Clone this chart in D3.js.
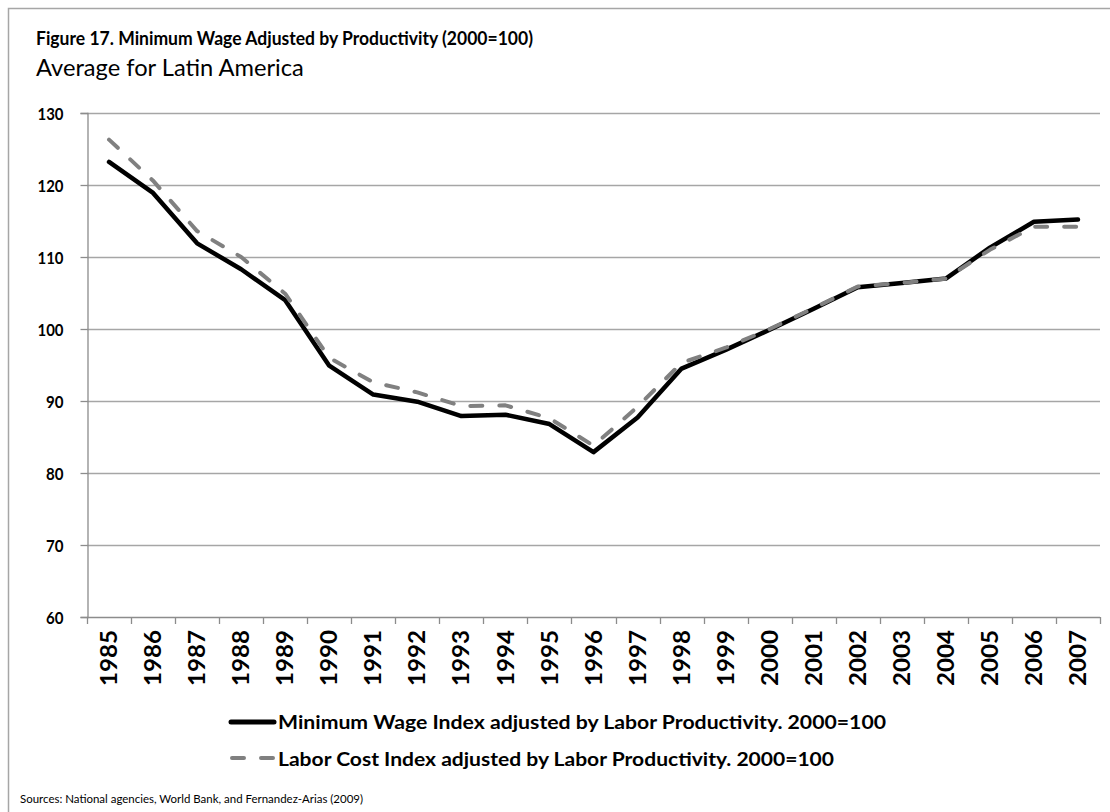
<!DOCTYPE html>
<html>
<head>
<meta charset="utf-8">
<script src="https://cdn.jsdelivr.net/npm/d3@7"></script>
<style>
  html, body { margin: 0; padding: 0; background: #ffffff; }
  svg { display: block; font-family: "Lato", "Carlito", "Liberation Sans", sans-serif; }
</style>
</head>
<body>
<svg id="chart" width="1110" height="812"></svg>
<script>
// ---- data ----
const years = ["1985","1986","1987","1988","1989","1990","1991","1992","1993","1994","1995","1996",
               "1997","1998","1999","2000","2001","2002","2003","2004","2005","2006","2007"];
const minWageIndex = [123.2, 118.9, 111.9, 108.3, 104.0, 94.9, 90.9, 89.9, 87.9, 88.1, 86.8, 82.9,
                      87.7, 94.5, 97.1, 99.9, 102.8, 105.8, 106.4, 107.0, 111.3, 114.9, 115.2];
const laborCostIndex = [126.3, 120.6, 113.6, 110.0, 104.9, 96.0, 92.6, 91.2, 89.3, 89.4, 87.6, 83.8,
                        89.2, 95.3, 97.4, 100.0, 102.9, 105.9, 106.4, 107.0, 111.0, 114.2, 114.2];
const yTicks = [60, 70, 80, 90, 100, 110, 120, 130];
const seriesNames = ["Minimum Wage Index adjusted by Labor Productivity. 2000=100",
                     "Labor Cost Index adjusted by Labor Productivity. 2000=100"];
const titleText = "Figure 17. Minimum Wage Adjusted by Productivity (2000=100)";
const subtitleText = "Average for Latin America";
const sourceText = "Sources: National agencies, World Bank, and Fernandez-Arias (2009)";

// ---- layout ----
const svg = d3.select("#chart");
const plot = { left: 87, right: 1100, top: 113, bottom: 617 };
const gridColor = "#a6a6a6";
const axisColor = "#8c8c8c";

// set font size (for glyph height) and width (to match the reference's narrower face)
function sizeText(sel, fontSize, width) {
  sel.attr("font-size", fontSize)
     .attr("textLength", width)
     .attr("lengthAdjust", "spacingAndGlyphs");
  return sel;
}
// scale font size so that natural width matches target
function fitWidth(sel, target) {
  const len = sel.node().getComputedTextLength();
  const fs = parseFloat(sel.attr("font-size"));
  if (len > 0) sel.attr("font-size", (fs * target / len).toFixed(2));
  return sel;
}

// outer border (extends beyond the canvas on right and bottom)
svg.append("rect")
  .attr("x", 8.5).attr("y", 8.5).attr("width", 1300).attr("height", 1000)
  .attr("fill", "none").attr("stroke", "#a6a6a6").attr("stroke-width", 1.5);

// titles
sizeText(svg.append("text").attr("x", 36).attr("y", 45)
  .attr("font-weight", "bold").attr("fill", "#000").text(titleText), 18, 497);
fitWidth(svg.append("text").attr("x", 36).attr("y", 76).attr("font-size", 20)
  .attr("fill", "#000").text(subtitleText), 268);

// scales
const x = d3.scaleBand().domain(years).range([plot.left, plot.right]).paddingInner(0).paddingOuter(0);
const y = d3.scaleLinear().domain([60, 130]).range([plot.bottom, plot.top]);
const cx = d => x(d) + x.bandwidth() / 2;

// gridlines
svg.append("g").selectAll("line")
  .data(yTicks.filter(t => t !== 60))
  .join("line")
  .attr("x1", plot.left).attr("x2", plot.right)
  .attr("y1", d => Math.round(y(d)) + 0.5).attr("y2", d => Math.round(y(d)) + 0.5)
  .attr("stroke", gridColor).attr("stroke-width", 1.3);

// y axis
const yAxis = svg.append("g")
  .attr("transform", `translate(${plot.left + 0.5},0)`)
  .call(d3.axisLeft(y).tickValues(yTicks).tickSize(7).tickPadding(10).tickFormat(d3.format("d")));
yAxis.select(".domain").attr("stroke", axisColor).attr("stroke-width", 1.3);
yAxis.selectAll(".tick line").attr("stroke", axisColor).attr("stroke-width", 1.3);
yAxis.selectAll(".tick").each(function(d){
  d3.select(this).attr("transform", `translate(0,${Math.round(y(d)) + 0.5})`);
});
yAxis.selectAll(".tick text")
  .attr("font-family", "Lato, Carlito, sans-serif")
  .attr("font-weight", "bold").attr("fill", "#000").attr("x", -24).attr("dy", "0.36em")
  .attr("font-size", 17)
  .attr("textLength", d => String(d).length === 3 ? 26 : 17.5)
  .attr("lengthAdjust", "spacingAndGlyphs");

// x axis line
svg.append("line")
  .attr("x1", plot.left).attr("x2", plot.right)
  .attr("y1", plot.bottom + 0.5).attr("y2", plot.bottom + 0.5)
  .attr("stroke", axisColor).attr("stroke-width", 1.3);
// x tick marks at category boundaries
const boundaries = years.map(d => x(d)).concat([x(years[years.length - 1]) + x.bandwidth()]);
svg.append("g").selectAll("line")
  .data(boundaries)
  .join("line")
  .attr("x1", d => Math.round(d) + 0.5).attr("x2", d => Math.round(d) + 0.5)
  .attr("y1", plot.bottom).attr("y2", plot.bottom + 7)
  .attr("stroke", axisColor).attr("stroke-width", 1.3);
// x labels (rotated)
svg.append("g").selectAll("text")
  .data(years)
  .join("text")
  .attr("transform", d => `translate(${cx(d)},${plot.bottom + 13}) rotate(-90)`)
  .attr("text-anchor", "end")
  .attr("dy", "0.36em")
  .attr("font-weight", "bold").attr("fill", "#000")
  .attr("font-size", 22.5)
  .attr("textLength", 56)
  .attr("lengthAdjust", "spacingAndGlyphs")
  .text(d => d);

// lines
const lineGen = vals => d3.line()
  .x((d, i) => cx(years[i]))
  .y(d => y(d))(vals);

svg.append("path")
  .attr("d", lineGen(minWageIndex))
  .attr("fill", "none").attr("stroke", "#000").attr("stroke-width", 4.5)
  .attr("stroke-linejoin", "round").attr("stroke-linecap", "round");

svg.append("path")
  .attr("d", lineGen(laborCostIndex))
  .attr("fill", "none").attr("stroke", "#808080").attr("stroke-width", 4)
  .attr("stroke-dasharray", "12,17")
  .attr("stroke-linejoin", "round").attr("stroke-linecap", "round");

// legend
const leg = svg.append("g");
leg.append("line").attr("x1", 231).attr("x2", 274).attr("y1", 722).attr("y2", 722)
  .attr("stroke", "#000").attr("stroke-width", 5).attr("stroke-linecap", "round");
leg.append("line").attr("x1", 232).attr("x2", 274).attr("y1", 758).attr("y2", 758)
  .attr("stroke", "#808080").attr("stroke-width", 4).attr("stroke-linecap", "round")
  .attr("stroke-dasharray", "12,17");
sizeText(leg.append("text").attr("x", 278).attr("y", 729)
  .attr("font-weight", "bold").attr("fill", "#000").text(seriesNames[0]), 19, 608);
sizeText(leg.append("text").attr("x", 278).attr("y", 766)
  .attr("font-weight", "bold").attr("fill", "#000").text(seriesNames[1]), 19, 556);

// source
sizeText(svg.append("text").attr("x", 20).attr("y", 803)
  .attr("fill", "#000").text(sourceText), 12.3, 343);
</script>
</body>
</html>
